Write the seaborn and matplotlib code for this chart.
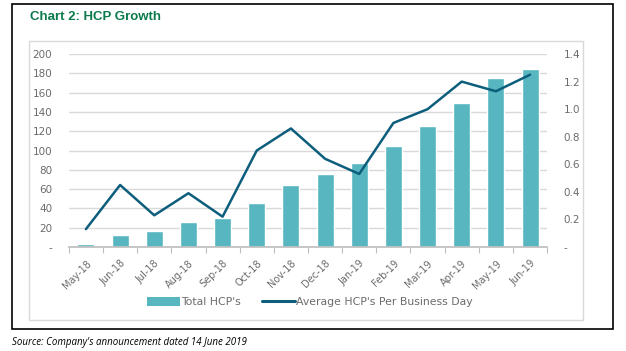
import numpy as np
import pandas as pd
import seaborn as sns
import matplotlib.pyplot as plt
from matplotlib.patches import Rectangle, Patch
from matplotlib.lines import Line2D

months = ['May-18', 'Jun-18', 'Jul-18', 'Aug-18', 'Sep-18', 'Oct-18', 'Nov-18',
          'Dec-18', 'Jan-19', 'Feb-19', 'Mar-19', 'Apr-19', 'May-19', 'Jun-19']
total_hcp = [3.5, 12, 17, 26, 30, 46, 64, 76, 87, 105, 125, 149, 175, 185]
avg_hcp_per_day = [0.13, 0.45, 0.23, 0.39, 0.22, 0.70, 0.86, 0.64, 0.53,
                   0.90, 1.00, 1.20, 1.13, 1.25]
left_ticks = list(range(0, 201, 20))
right_ticks = [0, 0.2, 0.4, 0.6, 0.8, 1.0, 1.2, 1.4]

bar_color = '#57B6C0'
line_color = '#0D5E7C'
txt_color = '#6B6B6B'

sns.set_theme(style='white')
plt.rcParams['font.family'] = ['DejaVu Sans']

df = pd.DataFrame({'month': months, 'total': total_hcp, 'avg': avg_hcp_per_day,
                   'pos': np.arange(len(months))})

fig = plt.figure(figsize=(6.26, 3.51), dpi=100)
ax = fig.add_axes([0.110, 0.2963, 0.764, 0.5497])

sns.barplot(data=df, x='month', y='total', color=bar_color, width=0.5,
            saturation=1, ax=ax, zorder=2)
ax.set_ylim(0, 200)
ax.set_xlim(-0.5, len(months) - 0.5)
ax.set_yticks(left_ticks)
ax.set_yticklabels(['-'] + [str(v) for v in left_ticks[1:]])
ax.yaxis.grid(True, color='#D9D9D9', lw=1)
ax.set_axisbelow(True)
ax.set_xlabel('')
ax.set_ylabel('')

ax2 = ax.twinx()
sns.lineplot(data=df, x='pos', y='avg', color=line_color, lw=1.8, ax=ax2)
ax2.set_ylim(0, 1.4)
ax2.set_yticks(right_ticks)
ax2.set_yticklabels(['-'] + ['%.1f' % v for v in right_ticks[1:]])
ax2.set_xlim(-0.5, len(months) - 0.5)
ax2.set_xlabel('')
ax2.set_ylabel('')

for a in (ax, ax2):
    for s in a.spines.values():
        s.set_visible(False)
    a.tick_params(axis='y', length=0, colors=txt_color, labelsize=7.5)
ax.tick_params(axis='y', pad=12)
ax2.tick_params(axis='y', pad=12)

ax.spines['bottom'].set_visible(True)
ax.spines['bottom'].set_color('#BFBFBF')
ax.set_xticks(np.arange(len(months)))
ax.set_xticklabels(months, rotation=45, ha='right', rotation_mode='anchor')
ax.set_xticks(np.arange(-0.5, len(months)), minor=True)
ax.tick_params(axis='x', which='major', length=0, colors=txt_color,
               labelsize=7, pad=8)
ax.tick_params(axis='x', which='minor', length=4, color='#BFBFBF', width=0.8,
               direction='out', bottom=True)

handles = [Patch(facecolor=bar_color, edgecolor='none'),
           Line2D([0], [0], color=line_color, lw=2.2)]
fig.legend(handles, ["Total HCP's", "Average HCP's Per Business Day"],
           loc='center', bbox_to_anchor=(0.495, 0.14), ncol=2, frameon=False,
           fontsize=7.8, labelcolor=txt_color, handlelength=3.0,
           handletextpad=0.1, columnspacing=2.0, handleheight=0.9)

fig.patches.append(Rectangle((0.0463, 0.0883), 0.885, 0.795, transform=fig.transFigure,
                             fill=False, edgecolor='#D9D9D9', lw=1))
fig.patches.append(Rectangle((0.0192, 0.0627), 0.960, 0.926, transform=fig.transFigure,
                             fill=False, edgecolor='black', lw=1.2))

fig.text(0.048, 0.951, 'Chart 2: HCP Growth', color='#0B7A4C', fontsize=9.5,
         fontweight='bold', family='Liberation Sans', va='center')
fig.text(0.019, 0.024, "Source: Company's announcement dated 14 June 2019",
         fontsize=7, style='italic', family='Open Sans', va='center', color='black')

fig.savefig('out.png', dpi=100)
